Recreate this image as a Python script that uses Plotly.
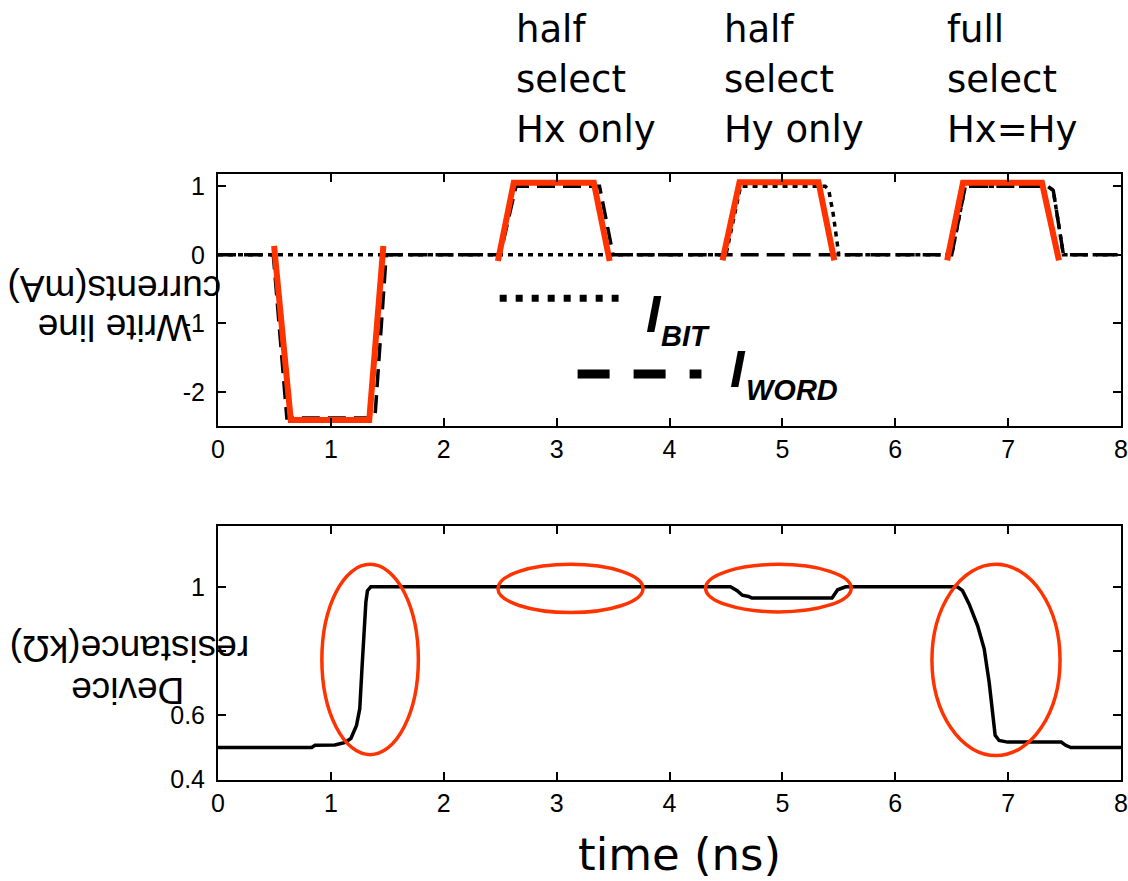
import plotly.graph_objects as go

# ---- write-line currents (mA) vs time (ns) ----
word_t = [0, 0.49, 0.61, 1.39, 1.49, 2.5, 2.64, 3.38, 3.5, 6.5, 6.62, 7.35, 7.40, 7.49, 8]
word_i = [0, 0, -2.38, -2.38, 0, 0, 1.0, 1.0, 0, 0, 1.0, 1.0, 0.94, 0, 0]

bit_t = [0, 4.5, 4.63, 5.38, 5.41, 5.45, 5.5, 6.5, 6.62, 7.35, 7.40, 7.49, 8]
bit_i = [0, 0, 1.0, 1.0, 0.95, 0.6, 0, 0, 1.0, 1.0, 0.94, 0, 0]

# idealised trapezoid pulses (red overlay), segments separated by None
ideal_t = [0.497, 0.645, 1.34, 1.465, None,
           2.48, 2.62, 3.33, 3.47, None,
           4.47, 4.62, 5.32, 5.46, None,
           6.46, 6.60, 7.30, 7.45]
ideal_i = [0.13, -2.41, -2.41, 0.13, None,
           -0.09, 1.05, 1.05, -0.09, None,
           -0.08, 1.06, 1.06, -0.08, None,
           -0.08, 1.05, 1.05, -0.08]

# ---- device resistance (kOhm) vs time (ns) ----
res_t = [0, 0.83, 0.86, 1.035, 1.12, 1.177, 1.227, 1.256, 1.277, 1.295, 1.31, 1.324, 1.354,
         4.54, 4.60, 4.645, 4.70, 4.73, 5.44, 5.49, 5.53, 5.56,
         6.55, 6.596, 6.655, 6.73, 6.788, 6.832, 6.862, 6.885, 6.92, 6.995, 7.47, 7.51, 7.556, 8]
res_r = [0.5, 0.5, 0.507, 0.508, 0.515, 0.528, 0.569, 0.621, 0.755, 0.859, 0.952, 0.988, 1.0,
         1.0, 0.988, 0.974, 0.970, 0.965, 0.965, 0.991, 0.995, 1.0,
         1.0, 0.988, 0.946, 0.879, 0.807, 0.703, 0.61, 0.538, 0.522, 0.517, 0.517, 0.507, 0.5, 0.5]

# highlighted switching regions (x0, x1, y0, y1)
regions_x0 = [0.92, 2.48, 4.32, 6.325]
regions_x1 = [1.775, 3.765, 5.61, 7.46]
regions_y0 = [0.478, 0.92, 0.922, 0.475]
regions_y1 = [1.07, 1.07, 1.07, 1.07]

# condition labels above the pulses
cond_lines = [["half", "select", "Hx only"],
              ["half", "select", "Hy only"],
              ["full", "select", "Hx=Hy"]]

x_ticks = [0, 1, 2, 3, 4, 5, 6, 7, 8]
x_ticktext = ["0", "1", "2", "3", "4", "5", "6", "7", "8"]
i_ticks = [-2, -1, 0, 1]
i_ticktext = ["-2", "-1", "0", "1"]
r_ticks = [0.4, 0.6, 0.8, 1]
r_ticktext = ["0.4", "0.6", "", "1"]

RED = "#ff3300"
W, H = 1128, 881
ML, MR = 218, 6
VK = 0.986  # vertical layout factor


def xp(px):
    return (px - ML) / (W - ML - MR)


def yp(py):
    return 1 - (py / VK) / H


fig = go.Figure()

fig.add_trace(go.Scatter(x=bit_t, y=bit_i, mode="lines", xaxis="x", yaxis="y",
                         line=dict(color="black", width=3.5, dash="5px,5px")))
fig.add_trace(go.Scatter(x=word_t, y=word_i, mode="lines", xaxis="x", yaxis="y",
                         line=dict(color="black", width=3.5, dash="18px,8px")))
fig.add_trace(go.Scatter(x=ideal_t, y=ideal_i, mode="lines", xaxis="x", yaxis="y",
                         connectgaps=False, line=dict(color=RED, width=6)))

fig.add_trace(go.Scatter(x=res_t, y=res_r, mode="lines", xaxis="x2", yaxis="y2",
                         line=dict(color="black", width=3.5)))

tick_font = dict(family="Liberation Sans, Arial, sans-serif", size=25, color="black")
axis_common = dict(showline=True, linecolor="black", linewidth=2, mirror="ticks",
                   ticks="inside", ticklen=8, tickwidth=1.5, tickcolor="black",
                   showgrid=False, zeroline=False, tickfont=tick_font,
                   ticklabeloverflow="allow")

fig.update_layout(
    width=W, height=H,
    margin=dict(l=ML, r=MR, t=0, b=0),
    paper_bgcolor="white", plot_bgcolor="white",
    showlegend=False,
    xaxis=dict(domain=[0, 1], range=[0, 8], tickvals=x_ticks, ticktext=x_ticktext,
               anchor="y", **axis_common),
    yaxis=dict(domain=[yp(426), yp(173)], range=[-2.5, 1.175], tickvals=i_ticks,
               ticktext=i_ticktext, anchor="x", ticklabelstandoff=6, **axis_common),
    xaxis2=dict(domain=[0, 1], range=[0, 8], tickvals=x_ticks, ticktext=x_ticktext,
                anchor="y2", **axis_common),
    yaxis2=dict(domain=[yp(781), yp(526)], range=[0.4, 1.19], tickvals=r_ticks,
                ticktext=r_ticktext, anchor="x2", ticklabelstandoff=6, **axis_common),
)

# switching-region ellipses on the resistance panel
for x0, x1, y0, y1 in zip(regions_x0, regions_x1, regions_y0, regions_y1):
    fig.add_shape(type="circle", xref="x2", yref="y2", x0=x0, x1=x1, y0=y0, y1=y1,
                  line=dict(color=RED, width=3.5))

# legend samples drawn inside the current panel
fig.add_shape(type="line", xref="paper", yref="paper",
              x0=xp(500), x1=xp(619), y0=yp(297.5), y1=yp(297.5),
              line=dict(color="black", width=7, dash="7px,9px"))
fig.add_shape(type="line", xref="paper", yref="paper",
              x0=xp(578), x1=xp(702), y0=yp(373.5), y1=yp(373.5),
              line=dict(color="black", width=9, dash="32px,24px"))

sym_font = dict(family="Liberation Sans, Arial, sans-serif", size=52, color="black")
sub_font = dict(family="Liberation Sans, Arial, sans-serif", size=29, color="black")
for main_x, main_y, sub_txt, sub_x, sub_y in [(654, 313, "BIT", 686, 335),
                                              (739, 369, "WORD", 793, 390)]:
    fig.add_annotation(xref="paper", yref="paper", x=xp(main_x), y=yp(main_y),
                       text="<b><i>I</i></b>", showarrow=False, font=sym_font,
                       xanchor="center", yanchor="middle")
    fig.add_annotation(xref="paper", yref="paper", x=xp(sub_x), y=yp(sub_y),
                       text="<b><i>" + sub_txt + "</i></b>", showarrow=False, font=sub_font,
                       xanchor="center", yanchor="middle")

# condition labels
cond_font = dict(family="DejaVu Sans, sans-serif", size=37, color="black")
for left_px, lines in zip([514, 723, 946], cond_lines):
    for k, line in enumerate(lines):
        fig.add_annotation(xref="paper", yref="paper", x=xp(left_px), y=yp(28 + 50 * k),
                           text=line, showarrow=False, font=cond_font,
                           xanchor="left", yanchor="middle")

# axis titles (upside-down y titles)
ylab_font = dict(family="Liberation Sans, Arial, sans-serif", size=37, color="black")
for txt, cx, cy in [("Write line", 114, 327), ("currents(mA)", 114, 287),
                    ("Device", 128, 692), ("resistance(kΩ)", 130, 649)]:
    fig.add_annotation(xref="paper", yref="paper", x=xp(cx), y=yp(cy), text=txt,
                       showarrow=False, font=ylab_font, textangle=180,
                       xanchor="center", yanchor="middle")

fig.add_annotation(xref="paper", yref="paper", x=xp(680), y=yp(856), text="time (ns)",
                   showarrow=False, font=dict(family="DejaVu Sans, sans-serif", size=45, color="black"),
                   xanchor="center", yanchor="middle")

fig.write_html("out.html")
